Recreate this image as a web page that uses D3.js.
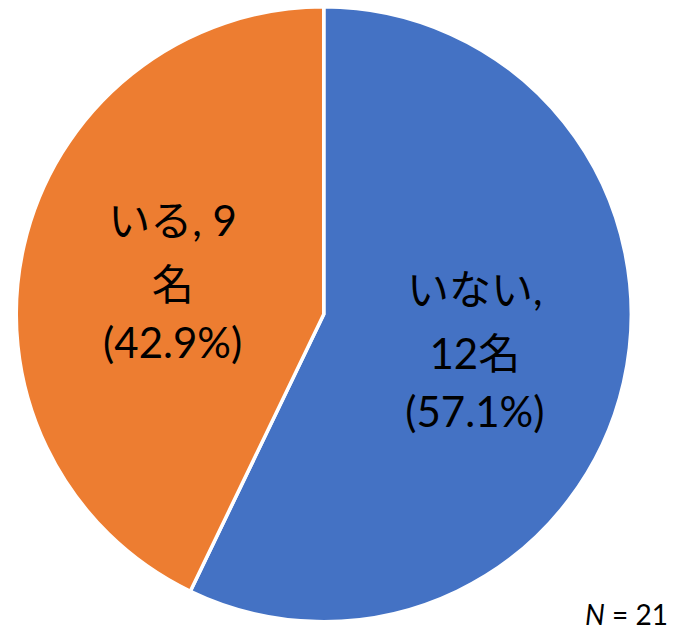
<!DOCTYPE html>
<html>
<head>
<meta charset="utf-8">
<script src="https://cdn.jsdelivr.net/npm/d3@7"></script>
<style>
  html, body { margin: 0; padding: 0; background: #ffffff; }
  svg { display: block; }
  text { font-family: Lato, "Noto Sans CJK JP", sans-serif; fill: #000; }
</style>
</head>
<body>
<svg id="chart" width="674" height="630"></svg>
<script>
// Survey answers (respondent counts)
const categories = ["いない", "いる"];
const counts = [12, 9];
const colors = ["#4472C4", "#ED7D31"];
const totalLabel = "21";

const width = 674, height = 630;
const cx = 323.75, cy = 314.2, radius = 307.5;

const svg = d3.select("#chart");
const g = svg.append("g").attr("transform", `translate(${cx},${cy})`);

const total = d3.sum(counts);
const data = categories.map((c, i) => ({ name: c, value: counts[i], color: colors[i] }));

const pie = d3.pie().value(d => d.value).sort(null);
const arc = d3.arc().innerRadius(0).outerRadius(radius);
const labelArc = d3.arc().innerRadius(radius * 0.504).outerRadius(radius * 0.504);

const arcs = pie(data);

g.selectAll("path.slice")
  .data(arcs)
  .enter().append("path")
  .attr("class", "slice")
  .attr("d", arc)
  .attr("fill", d => d.data.color)
  .attr("stroke", "#ffffff")
  .attr("stroke-width", 3.5)
  .attr("stroke-linejoin", "round");

// Data labels: three lines each, stacked around the slice centroid
const fmtPct = v => (v / total * 100).toFixed(1) + "%";
const lineOffsets = [-44, 20, 78];
const labelLines = [
  d => [d.data.name + ",", d.data.value + "名", "(" + fmtPct(d.data.value) + ")"],
  d => [d.data.name + ", " + d.data.value, "名", "(" + fmtPct(d.data.value) + ")"]
];

arcs.forEach((d, i) => {
  const [x, y] = labelArc.centroid(d);
  const lines = labelLines[i](d);
  const t = g.append("text")
    .attr("text-anchor", "middle")
    .attr("font-size", 42);
  lines.forEach((s, k) => {
    t.append("tspan")
      .attr("x", x)
      .attr("y", y + lineOffsets[k])
      .text(s);
  });
});

// Sample size note
const note = svg.append("text")
  .attr("x", 668)
  .attr("y", 625)
  .attr("text-anchor", "end")
  .attr("font-size", 28);
note.append("tspan").attr("font-style", "italic").text("N");
note.append("tspan").text(" = " + totalLabel);
</script>
</body>
</html>
